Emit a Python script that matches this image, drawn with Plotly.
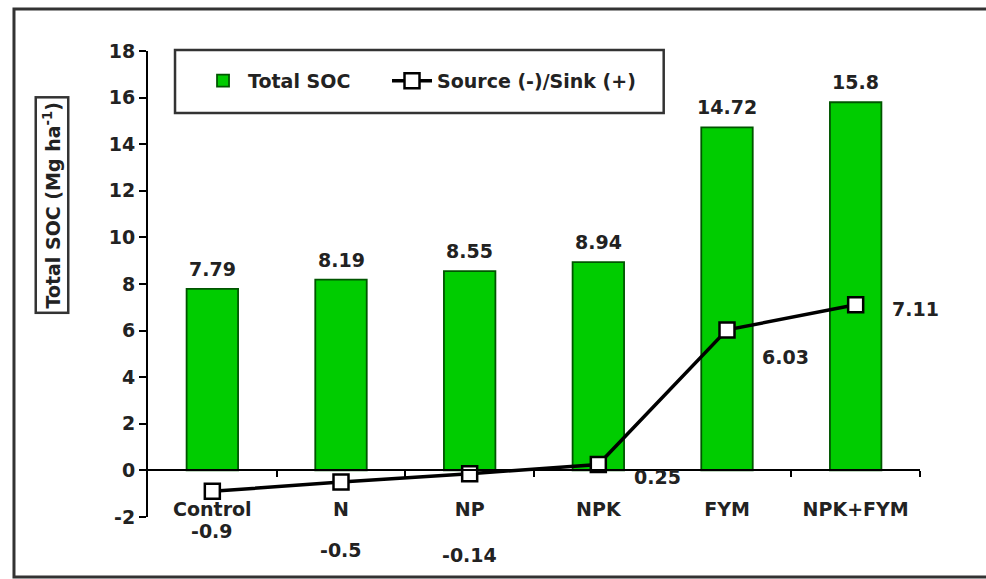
import plotly.graph_objects as go

categories = ["Control", "N", "NP", "NPK", "FYM", "NPK+FYM"]
total_soc = [7.79, 8.19, 8.55, 8.94, 14.72, 15.8]
source_sink = [-0.9, -0.5, -0.14, 0.25, 6.03, 7.11]
y_ticks = [-2, 0, 2, 4, 6, 8, 10, 12, 14, 16, 18]

FONT = "DejaVu Sans"
TXT = "#222222"
xpos = list(range(len(categories)))

fig = go.Figure()
fig.add_trace(go.Bar(
    x=xpos, y=total_soc, name="Total SOC", width=0.4, legend="legend",
    marker=dict(color="#00CC00", line=dict(color="#005500", width=1.8)),
))
fig.add_trace(go.Scatter(
    x=xpos, y=source_sink, name="Source (-)/Sink (+)", mode="lines+markers",
    legend="legend2",
    line=dict(color="black", width=3.5),
    marker=dict(symbol="square", size=15, color="white",
                line=dict(color="black", width=2.5)),
    cliponaxis=False,
))

ann = []
for i, v in enumerate(total_soc):
    ann.append(dict(x=xpos[i], y=v, text=f"{v:g}", showarrow=False,
                    yanchor="bottom", yshift=7,
                    font=dict(family=FONT, size=19, color=TXT, weight="bold")))
shifts = [(0, -40), (0, -68), (0, -81), (59, -12), (58, -27), (60, -4)]
for i, v in enumerate(source_sink):
    dx, dy = shifts[i]
    ann.append(dict(x=xpos[i], y=v, text=f"{v:g}", showarrow=False,
                    xshift=dx, yshift=dy,
                    font=dict(family=FONT, size=19, color=TXT, weight="bold")))
ann.append(dict(xref="paper", yref="paper", x=-0.124, y=0.67,
                xanchor="center", yanchor="middle",
                text="Total SOC (Mg ha<sup>-1</sup>)", textangle=-90,
                showarrow=False, bordercolor="#333333", borderwidth=2.5,
                borderpad=3, bgcolor="white",
                font=dict(family=FONT, size=19, color=TXT, weight="bold")))

legfont = dict(family=FONT, size=19, color=TXT, weight="bold")

fig.update_layout(
    width=986, height=579,
    margin=dict(l=148, r=66, t=51, b=62),
    paper_bgcolor="white", plot_bgcolor="white",
    font=dict(family=FONT, size=19, color=TXT, weight="bold"),
    annotations=ann,
    showlegend=True,
    legend=dict(orientation="h", x=0.0648, y=0.936, xanchor="left", yanchor="middle",
                borderwidth=0, bgcolor="rgba(0,0,0,0)", font=legfont, itemwidth=40),
    legend2=dict(orientation="h", x=0.3096, y=0.936, xanchor="left", yanchor="middle",
                 borderwidth=0, bgcolor="rgba(0,0,0,0)", font=legfont, itemwidth=40),
    shapes=[dict(type="rect", xref="paper", yref="paper",
                 x0=-0.1736, x1=1.095, y0=-0.1288, y1=1.0901,
                 line=dict(color="#333333", width=3), layer="below"),
            dict(type="rect", xref="paper", yref="paper",
                 x0=0.035, x1=0.668, y0=0.867, y1=1.002,
                 line=dict(color="#333333", width=2.5), fillcolor="white",
                 layer="below")],
    xaxis=dict(range=[-0.5, 5.5], tickmode="array", tickvals=xpos,
               ticktext=categories, ticks="", showgrid=False, zeroline=False,
               showline=True, linecolor="black", linewidth=2,
               anchor="free", position=0.1, ticklabelstandoff=22,
               minor=dict(tickmode="array", tickvals=[0.5, 1.5, 2.5, 3.5, 4.5, 5.5],
                          ticks="outside", ticklen=6, tickcolor="black", tickwidth=2),
               tickfont=dict(family=FONT, size=19, color=TXT, weight="bold")),
    yaxis=dict(range=[-2, 18], tickmode="array", tickvals=y_ticks,
               ticktext=[str(v) for v in y_ticks],
               ticks="outside", ticklen=7, tickwidth=2, tickcolor="black",
               showline=True, linecolor="black", linewidth=2,
               showgrid=False, zeroline=False, domain=[0, 1],
               tickfont=dict(family=FONT, size=19, color=TXT, weight="bold")),
)

fig.write_html("out.html")
